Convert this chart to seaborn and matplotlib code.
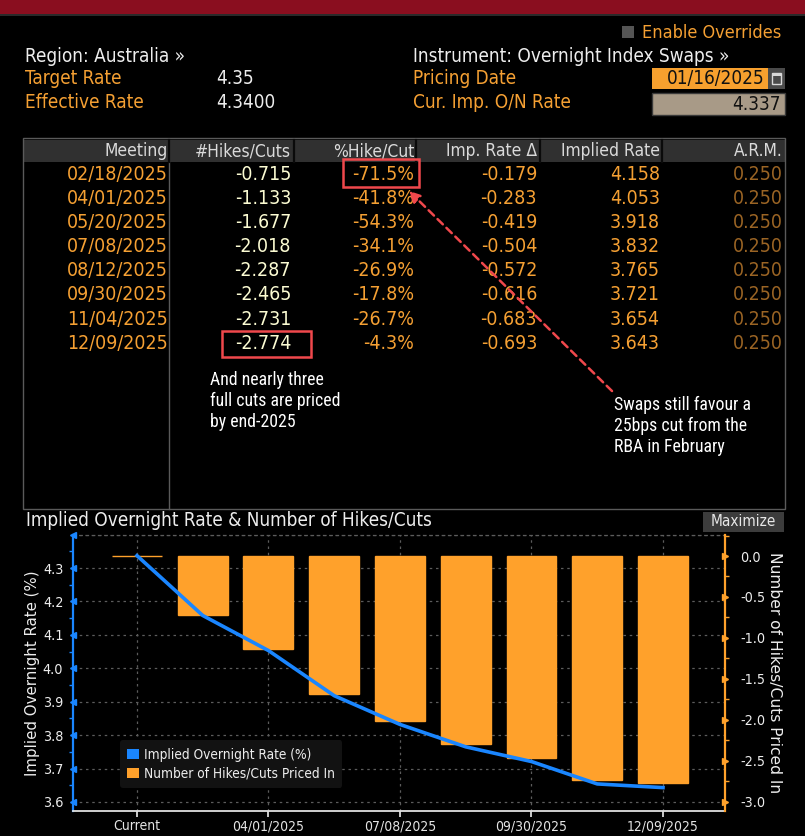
import numpy as np
import pandas as pd
import matplotlib
matplotlib.use("Agg")
import matplotlib.pyplot as plt
import seaborn as sns
from matplotlib.patches import Rectangle, Patch, FancyArrowPatch
from matplotlib.lines import Line2D
from matplotlib.ticker import MultipleLocator, FixedLocator, FormatStrFormatter

# ---------------- data ----------------
meetings = ["02/18/2025", "04/01/2025", "05/20/2025", "07/08/2025",
            "08/12/2025", "09/30/2025", "11/04/2025", "12/09/2025"]
hikes_cuts = [-0.715, -1.133, -1.677, -2.018, -2.287, -2.465, -2.731, -2.774]
pct_hike_cut = [-71.5, -41.8, -54.3, -34.1, -26.9, -17.8, -26.7, -4.3]
imp_rate_delta = [-0.179, -0.283, -0.419, -0.504, -0.572, -0.616, -0.683, -0.693]
implied_rate = [4.158, 4.053, 3.918, 3.832, 3.765, 3.721, 3.654, 3.643]
arm = [0.250] * 8
current_rate = 4.337
target_rate = "4.35"
effective_rate = "4.3400"
pricing_date = "01/16/2025"

chart_labels = ["Current"] + meetings
chart_rates = [current_rate] + implied_rate
chart_hikes = [0.0] + hikes_cuts
left_ticks = [3.6, 3.7, 3.8, 3.9, 4.0, 4.1, 4.2, 4.3, 4.4]
right_ticks = [-3.0, -2.5, -2.0, -1.5, -1.0, -0.5, 0.0]

# ---------------- style ----------------
plt.rcParams['font.family'] = ['DejaVu Sans']
plt.rcParams['font.stretch'] = 'condensed'
plt.rcParams['axes.unicode_minus'] = False

ORANGE = '#F5A033'
BAR = '#FFA12B'
BLUE = '#1A86FF'
WHITE = '#EDEDED'
PALE = '#FBFBD2'
DIM = '#9A6424'
RED = '#F0484C'

W, H = 805, 836
fig = plt.figure(figsize=(W / 100, H / 100), dpi=100, facecolor='black')


def fx(x):
    return x / W


def fy(y):
    return 1 - y / H


def txt(x, y, s, color, size, ha='left', va='center', **kw):
    return fig.text(fx(x), fy(y), s, color=color, fontsize=size, ha=ha, va=va, **kw)


def rect(x0, y0, x1, y1, fc, ec='none', lw=0, z=0):
    fig.patches.append(Rectangle((fx(x0), fy(y1)), fx(x1) - fx(x0), fy(y0) - fy(y1),
                                 transform=fig.transFigure, facecolor=fc,
                                 edgecolor=ec, linewidth=lw, zorder=z))


def vline(x, y0, y1, color, lw=1.0, z=1, ls='-'):
    fig.add_artist(Line2D([fx(x), fx(x)], [fy(y0), fy(y1)], transform=fig.transFigure,
                          color=color, lw=lw, zorder=z, ls=ls))


# ---------------- top band & header ----------------
rect(0, 0, 805, 14, '#8A0E1F')
rect(0, 14, 805, 15.5, '#2A2A2A')

rect(622, 26, 634, 38, '#555555')
txt(642, 33, "Enable Overrides", ORANGE, 13)

HS = 13.6
txt(25, 56, "Region: Australia \u00bb", WHITE, HS)
txt(25, 79, "Target Rate", ORANGE, HS)
txt(216, 79, target_rate, WHITE, HS)
txt(25, 102, "Effective Rate", ORANGE, HS)
txt(216, 102, effective_rate, WHITE, HS)

txt(413, 56, "Instrument: Overnight Index Swaps \u00bb", WHITE, HS)
txt(413, 79, "Pricing Date", ORANGE, HS)
txt(413, 102, "Cur. Imp. O/N Rate", ORANGE, HS)
rect(652, 68, 768, 89, '#F7A02E')
txt(765, 79, pricing_date, '#111111', HS, ha='right')
rect(768, 68, 785, 89, '#4A4A4A')
rect(772, 73, 781, 84, 'none', ec='#D8D8D8', lw=1.0, z=2)
rect(772, 73, 781, 76, '#D8D8D8', z=2)
rect(652, 93, 785, 115, '#A89A87', ec='#3A3A3A', lw=1.0)
txt(781, 104, f"{current_rate:.3f}", '#111111', HS, ha='right')

# ---------------- table ----------------
rect(23, 140, 785, 162, '#303030')
rect(23, 138, 785, 509, 'none', ec='#5A5A5A', lw=1.0, z=1)
for xs in [169, 294, 416, 540, 662]:
    vline(xs, 140, 162, '#0A0A0A', lw=1.6, z=2)
vline(169, 162, 509, '#5A5A5A', lw=1.0)

col_right = [168, 291, 414, 537, 660, 783]
headers = ["Meeting", "#Hikes/Cuts", "%Hike/Cut", "Imp. Rate \u0394", "Implied Rate", "A.R.M."]
for xr, h in zip(col_right, headers):
    txt(xr, 151, h, '#DADADA', 12.5, ha='right')

TS = 14
row_y0, row_dy = 174, 24.2
for i in range(len(meetings)):
    y = row_y0 + i * row_dy
    txt(col_right[0], y, meetings[i], ORANGE, TS, ha='right')
    txt(col_right[1], y, f"{hikes_cuts[i]:.3f}", PALE, TS, ha='right')
    txt(col_right[2], y, f"{pct_hike_cut[i]:.1f}%", ORANGE, TS, ha='right')
    txt(col_right[3], y, f"{imp_rate_delta[i]:.3f}", ORANGE, TS, ha='right')
    txt(col_right[4], y, f"{implied_rate[i]:.3f}", ORANGE, TS, ha='right')
    txt(col_right[5], y, f"{arm[i]:.3f}", DIM, TS, ha='right')

# annotations
rect(343, 159, 419, 187, 'none', ec=RED, lw=1.8, z=3)
rect(222, 331, 311, 357, 'none', ec=RED, lw=1.8, z=3)
fig.add_artist(FancyArrowPatch((fx(614), fy(393)), (fx(407), fy(189)),
                               transform=fig.transFigure, arrowstyle='-|>',
                               mutation_scale=16, color=RED, lw=1.8,
                               linestyle=(0, (3, 2)), zorder=4))
ann = dict(family='Roboto Condensed', linespacing=1.22)
txt(210, 401, "And nearly three\nfull cuts are priced\nby end-2025", 'white', 12.8, **ann)
txt(614, 426, "Swaps still favour a\n25bps cut from the\nRBA in February", 'white', 12.8, **ann)

# ---------------- chart panel ----------------
txt(26, 521, "Implied Overnight Rate & Number of Hikes/Cuts", WHITE, 13.6)
rect(703, 512, 784, 532, '#3C3C3C')
txt(743.5, 522, "Maximize", '#E8E8E8', 11, ha='center')

rect_ax = [fx(73), fy(811), fx(725) - fx(73), fy(534.6) - fy(811)]
ax = fig.add_axes(rect_ax)
ax.set_facecolor('none')
ax2 = ax.twinx()
ax3 = fig.add_axes(rect_ax, sharex=ax, sharey=ax)
ax3.set_facecolor('none')
ax.set_zorder(0)
ax2.set_zorder(1)
ax3.set_zorder(2)

df = pd.DataFrame({'label': chart_labels, 'rate': chart_rates,
                   'hikes': chart_hikes, 'pos': np.arange(len(chart_labels))})

sns.barplot(data=df, x='label', y='hikes', ax=ax2, color=BAR, saturation=1,
            width=0.76, edgecolor=BAR, linewidth=1.0)
sns.lineplot(data=df, x='pos', y='rate', ax=ax3, color=BLUE, lw=2.6)

ax.set_xlim(-0.973, 8.943)
ax.set_ylim(3.573, 4.400)
ax2.set_ylim(-3.11, 0.261)

# left axis
ax.yaxis.set_major_locator(FixedLocator(left_ticks))
ax.set_yticklabels([f"{v:.1f}" if v < 4.35 else "" for v in left_ticks])
ax.yaxis.set_minor_locator(MultipleLocator(0.05))
ax.tick_params(axis='y', which='major', length=0, pad=7, labelcolor=WHITE, labelsize=10.3)
ax.tick_params(axis='y', which='minor', length=3, width=1, color=BLUE)
ax.plot([0] * len(left_ticks), left_ticks, ls='none', marker='<', ms=5, color=BLUE,
        transform=ax.get_yaxis_transform(), clip_on=False, zorder=5)

# x axis
ax.set_xticks(df['pos'][::2], df['label'][::2])
ax.tick_params(axis='x', which='major', length=4, width=1.2, color=WHITE,
               labelcolor='#E4E4E4', labelsize=10, pad=2)
ax.xaxis.set_minor_locator(FixedLocator([]))

ax.grid(True, which='major', color='#5C5C5C', ls=(0, (2, 3)), lw=0.9)
ax.set_axisbelow(True)

ax.spines['right'].set_visible(False)
ax.spines['top'].set_color('#5C5C5C')
ax.spines['top'].set_linestyle((0, (2, 3)))
ax.spines['top'].set_linewidth(0.9)
ax.spines['left'].set_color(BLUE)
ax.spines['left'].set_linewidth(1.6)
ax.spines['bottom'].set_color('#E0E0E0')
ax.spines['bottom'].set_linewidth(1.3)
ax.set_xlabel('')
ax.set_ylabel('')

# right axis
ax2.yaxis.set_major_locator(FixedLocator(right_ticks))
ax2.yaxis.set_major_formatter(FormatStrFormatter('%.1f'))
ax2.yaxis.set_minor_locator(MultipleLocator(0.25))
ax2.tick_params(axis='y', which='major', length=0, pad=11, labelcolor=WHITE, labelsize=10.3)
ax2.tick_params(axis='y', which='minor', length=3, width=1, color=BAR)
ax2.plot([1] * len(right_ticks), right_ticks, ls='none', marker='>', ms=5, color=BAR,
         transform=ax2.get_yaxis_transform(), clip_on=False, zorder=5)
for s in ['left', 'top', 'bottom']:
    ax2.spines[s].set_visible(False)
ax2.spines['right'].set_color(BAR)
ax2.spines['right'].set_linewidth(1.6)
ax2.set_xlabel('')
ax2.set_ylabel('')

ax3.set_axis_off()

leg = ax3.legend(handles=[Patch(facecolor=BLUE), Patch(facecolor=BAR)],
                 labels=["Implied Overnight Rate (%)", "Number of Hikes/Cuts Priced In"],
                 loc='lower left', bbox_to_anchor=(fx(120), fy(788)),
                 bbox_transform=fig.transFigure, facecolor='#121212', edgecolor='none',
                 framealpha=1, labelcolor=WHITE, fontsize=9.8, handlelength=0.85,
                 handleheight=0.8, handletextpad=0.35, labelspacing=0.35,
                 borderpad=0.55, borderaxespad=0, fancybox=True)

txt(33, 673, "Implied Overnight Rate (%)", WHITE, 10.8, ha='center', rotation=90,
    fontstretch='normal')
txt(774, 673, "Number of Hikes/Cuts Priced In", WHITE, 11.2, ha='center', rotation=-90,
    fontstretch='normal')

fig.savefig("out.png", dpi=100, facecolor='black')
